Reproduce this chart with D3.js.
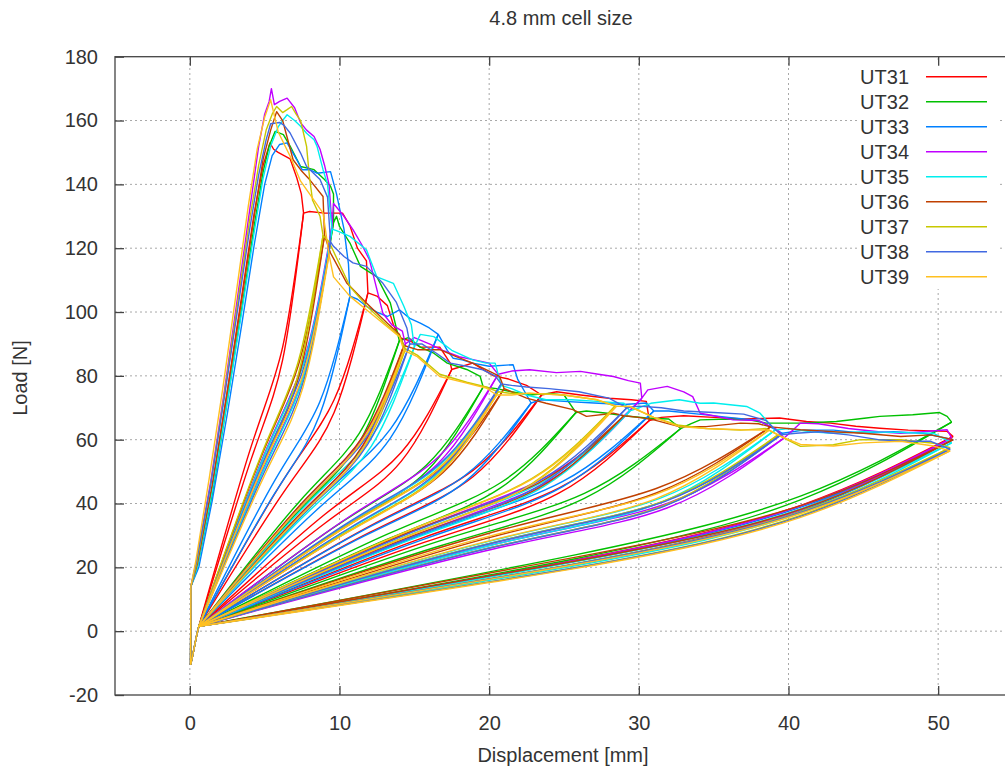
<!DOCTYPE html>
<html>
<head>
<meta charset="utf-8">
<script src="https://cdn.jsdelivr.net/npm/d3@7"></script>
<style>
  html, body { margin: 0; padding: 0; background: #fff; }
  svg { display: block; font-family: "Liberation Sans", Arial, sans-serif; }
</style>
</head>
<body>
<svg id="chart" width="1005" height="773"></svg>
<script>
// ---- axes ----
const xDomain = [-5, 55];
const yDomain = [-20, 180];
const displacementTicks = [0, 10, 20, 30, 40, 50];
const loadTicks = [-20, 0, 20, 40, 60, 80, 100, 120, 140, 160, 180];

const titleText = "4.8 mm cell size";
const xLabel = "Displacement [mm]";
const yLabel = "Load [N]";

// ---- specimens ----
const seriesNames = ["UT31", "UT32", "UT33", "UT34", "UT35", "UT36", "UT37", "UT38", "UT39"];
const seriesColors = ["#ff0000", "#00c000", "#0080ff", "#c000ff", "#00eeee", "#c04000", "#c8c800", "#4169e1", "#ffc020"];

// every unload/reload loop returns to this point [mm, N]
const loopBase = [0.6, 1.5];
// final return after the last unloading
const returnTail = [[0.6, 1.5], [0.45, -1.5], [0.3, -5], [0.15, -8.5], [0.05, -10.5]];

// loading envelopes [displacement mm, load N]
const envUT31 = [[0.05,-10.5],[0.07,14],[0.5,21],[1.5,45],[2.5,75],[3.5,106],[4.3,131],[4.9,146],[5.35,153],[5.6,151],[5.9,150],[6.3,149],[6.7,148],[7.15,142],[7.45,137],[7.6,131],[8.0,131.5],[9.0,131],[10.2,131],[10.7,127],[11.2,120],[11.8,116],[11.9,106],[12.5,105],[13.2,102],[13.6,96],[14.0,92],[14.7,91],[15.4,89],[16.7,89],[17.4,84],[17.5,82],[18.2,83],[18.9,84],[20.3,80],[21.3,79],[22.5,77],[23.5,74],[24.5,75],[26.1,74],[28,73],[29.5,72.5],[30.5,72],[30.7,66],[31.5,67],[33,67.5],[35,67],[37,66.5],[39.4,66.8],[41.2,65.7],[42.8,65.2],[44.5,64.2],[46.1,63.6],[48,63],[50.6,62.6],[51,61]];
const envUT32 = [[0.05,-10.5],[0.07,14],[0.5,20],[1.5,43],[2.5,72],[3.5,102],[4.3,127],[4.9,144],[5.3,152],[5.7,156.6],[6.25,155.6],[6.7,152],[7.4,145.6],[8.3,144.6],[9.0,141.5],[9.4,139.4],[9.6,137],[9.6,128],[9.8,130],[10.0,126.8],[10.7,121.6],[11.4,114.3],[12.5,111],[13.4,102.8],[14.0,91],[14.6,92],[15.4,89],[16.3,87.1],[17.2,84],[18.5,82],[19.4,79.8],[19.6,76.5],[20.5,76],[21.5,75],[22.7,74],[24,74.5],[25,74],[25.8,68.5],[26.5,69],[27.9,68.3],[29,67.5],[30.5,66.8],[32,66.5],[32.8,63.5],[33.5,65],[34.1,66.2],[36,66.5],[37.4,66.2],[38.5,65.2],[40.8,65.2],[43.2,65.7],[45.2,66.8],[46.1,67.3],[48.3,67.8],[50.1,68.5],[50.6,67.3],[50.9,65.5]];
const envUT33 = [[0.05,-10.5],[0.07,14],[0.6,20],[1.5,41],[2.5,68],[3.5,97],[4.3,121],[5.0,140],[5.5,149],[6.0,152.5],[6.5,153],[7.15,147.7],[7.5,144.6],[8.0,144.6],[8.5,143.5],[9.4,144],[9.8,137],[10.3,126],[10.6,115],[10.7,105],[11.2,104],[11.8,101.8],[12.5,100],[13.2,98.6],[14.0,100.7],[14.7,98],[15.4,96.5],[16.0,95],[16.6,93],[17.2,88],[17.6,85.5],[18.2,85],[18.9,84],[20.0,83],[21.6,83.5],[21.9,79],[22.5,74],[22.8,71.5],[23.5,72.5],[25,72],[27,71.5],[29,71],[30.5,71.5],[31,69],[32,69],[34,68],[36,67],[38,66],[39.6,62],[41,63],[43,63],[45,62],[47,62.5],[49,62],[51,60]];
const envUT34 = [[0.05,-10.5],[0.07,14],[0.45,22],[1.4,47],[2.3,75],[3.2,105],[4.0,132],[4.6,152],[5.0,162],[5.3,166],[5.45,170],[5.65,165],[6.0,166],[6.5,167],[7.0,164],[7.4,159.3],[7.8,157],[8.3,155],[8.7,151],[9.0,146],[9.3,140],[9.5,127],[9.6,134],[10.3,130],[10.9,125.8],[11.5,121],[12.0,116.4],[12.5,107],[12.9,99.6],[13.5,96],[14.2,94],[14.4,90],[15.0,92],[16.0,90],[16.9,88],[18.0,86],[19.0,85],[20.0,84],[20.6,80.5],[21.5,81.5],[22.7,81.9],[24.5,81],[26.1,81.4],[27.3,80.5],[28.3,79.8],[29.3,78.5],[30.1,77.7],[30.2,73],[30.6,75.6],[31.9,76.7],[33.0,75],[33.6,73.5],[34.1,68.3],[35.0,67.5],[36.3,66.2],[38.0,66],[39.3,63],[39.7,60.5],[40.3,63],[40.8,65.2],[42,65],[44,63.5],[46,62.5],[47.5,62],[49,62.5],[50.6,63.1],[50.9,60.5]];
const envUT35 = [[0.05,-10.5],[0.07,14],[0.5,20],[1.5,44],[2.5,72],[3.5,101],[4.3,125],[4.9,142],[5.4,152],[5.9,158],[6.2,160],[6.5,161.8],[7.0,160],[7.4,158.2],[7.8,156],[8.3,154],[8.5,151.9],[8.9,144.6],[9.2,140],[9.5,126],[9.8,125.5],[10.7,123.7],[11.8,119.5],[12.5,111],[13.6,109],[14.3,101.8],[14.8,96],[15.0,89],[15.4,93],[16.3,92.3],[17.5,88],[18.9,85],[19.8,84],[20.4,84],[20.8,77],[21.5,76],[22.5,74],[23.8,72.5],[25.5,72.5],[27.2,72],[29.0,71.4],[29.4,69],[30.0,70],[30.8,71.4],[32.7,72.5],[34.1,71.4],[35.0,71.5],[37.2,70.4],[38.1,68.3],[39.1,63],[40.0,63.5],[41.5,62.5],[43,62],[45,62.5],[47,62.3],[49.7,62],[50.9,59]];
const envUT36 = [[0.05,-10.5],[0.07,14],[0.5,21],[1.5,46],[2.5,75],[3.5,105],[4.3,130],[4.9,148],[5.4,157],[5.8,162.8],[6.2,160],[6.9,147.7],[7.5,144],[8.0,141.5],[8.9,136.2],[9.0,124],[9.4,118.5],[10.5,109],[11.8,102.8],[13.2,96.5],[14.0,93],[14.3,89.5],[15.2,88.2],[16.7,88.2],[17.8,86],[18.9,84],[20.0,81.5],[20.7,79.8],[21.0,76],[22.5,73],[23.8,71.4],[25.6,69.4],[26.5,67.3],[28.3,68.3],[29.0,67.5],[30.0,67],[31.0,66.2],[32.7,64.1],[34.5,64.1],[36.8,65.2],[38.0,65],[38.8,64],[40.8,63.1],[43,62.5],[45,62],[47.5,61],[49.5,61.5],[51,60]];
const envUT37 = [[0.05,-10.5],[0.07,14],[0.45,21],[1.4,46],[2.3,74],[3.2,103],[4.0,129],[4.6,146],[5.1,157],[5.5,162],[5.8,164.4],[6.2,162.5],[6.5,163.4],[6.8,164.4],[7.1,162],[7.4,160],[7.8,151.9],[8.0,142],[8.2,135],[8.7,130],[8.9,124],[9.3,122],[10.0,115],[10.7,108],[11.8,102],[12.9,97],[14.0,92.5],[14.4,88.5],[15.2,86.5],[16.7,80.5],[18.5,78],[19.8,76.5],[20.6,75],[21.5,74.5],[22.7,74.5],[25,74],[27.2,72.5],[28.4,70.5],[29.4,70.4],[31,67],[32.7,64.5],[34.5,63.5],[36.8,63],[38.5,63.5],[39.3,61.5],[39.9,60],[40.8,57.9],[43,58.4],[44.8,60],[47.5,60],[49.7,58.9],[50.8,57.5]];
const envUT38 = [[0.05,-10.5],[0.07,14],[0.45,22],[1.4,46],[2.3,73],[3.2,101],[4.0,126],[4.6,143],[5.1,154],[5.4,159],[6.0,159.4],[6.3,158.5],[6.7,156.1],[7.4,149.8],[7.8,145.6],[8.7,141.5],[9.2,136],[9.4,122],[9.6,120.6],[10.3,117.4],[10.9,115.4],[11.8,114.3],[12.9,109],[13.8,103],[14.5,95],[14.7,90],[15.5,90],[16.5,87],[17.4,84],[18.5,83],[19.5,82],[20.4,80],[20.8,77.5],[21.5,77],[22.5,76.5],[24,76],[26,75],[28,73],[29.2,70],[30,70.5],[31.5,70],[33,69],[35,68.5],[37,68],[38.5,66],[39.5,61.5],[40.5,62],[42,62.5],[44,61.5],[46,60],[48,59.5],[49.5,59.5],[50.8,57]];
const envUT39 = [[0.05,-10.5],[0.07,14],[0.4,22],[1.3,48],[2.2,76],[3.1,106],[3.9,133],[4.5,151],[5.0,161],[5.4,166.5],[5.9,156.5],[6.7,148.8],[7.4,141],[8.0,137],[8.9,131],[9.3,118],[9.6,111],[10.7,104.9],[11.8,100.7],[12.9,96.5],[14.0,92.3],[14.3,88],[15.2,86],[16.7,79.8],[18.5,77.7],[19.8,76.2],[20.5,74],[21.5,74],[22.7,74.6],[25,74],[27.2,72.5],[28.5,70.5],[29.4,70.4],[31,67],[32.7,64.1],[34.5,63.5],[36.8,63.1],[38.7,63],[39.5,61],[40.8,58.5],[43,58],[45,59],[47.5,59.5],[49.7,58],[50.8,56.5]];

// unload/reload loops:
// [tip disp, tip load, mid disp, reload load, unload load, knee disp, reload load, unload load]
const loopsUT31 = [[7.6,131,4.1,57.9,53.9,6.2,89.0,85.0],[11.9,106,6.25,47.4,43.4,9.64,72.5,68.5],[17.5,82,9.05,36.7,33.9,14.12,56.0,53.2],[23.5,74,12.05,33.0,31.0,18.92,50.4,48.4],[30.7,66,15.65,29.4,27.8,24.68,44.9,43.3],[51,61,25.8,22.3,21.1,40.92,39.6,38.4]];
const loopsUT32 = [[9.6,128,5.1,56.6,52.6,7.8,87.0,83.0],[14,91,7.3,40.5,37.7,11.32,62.0,59.2],[19.6,76.5,10.1,34.0,32.0,15.8,52.0,50.0],[25.8,68.5,13.2,30.4,28.8,20.76,46.5,44.9],[32.8,63.5,16.7,28.3,26.7,26.36,43.2,41.6],[50.9,65.5,25.75,23.9,22.7,40.84,42.4,41.2]];
const loopsUT33 = [[10.7,105,5.65,47.0,43.0,8.68,71.8,67.8],[16.6,93,8.6,41.3,38.5,13.4,63.3,60.5],[22.8,71.5,11.7,31.9,29.9,18.36,48.7,46.7],[31,69,15.8,30.7,29.1,24.92,46.9,45.3],[39.6,62,20.1,27.6,26.2,31.8,40.9,39.5],[51,60,25.8,22.0,20.8,40.92,39.0,37.8]];
const loopsUT34 = [[9.5,127,5.05,56.2,52.2,7.72,86.3,82.3],[14.4,90,7.5,40.1,37.3,11.64,61.3,58.5],[20.6,80.5,10.6,35.7,33.7,16.6,54.6,52.6],[30.2,73,15.4,32.3,30.7,24.28,49.5,47.9],[39.7,60.5,20.15,27.0,25.6,31.88,40.0,38.6],[50.9,60.5,25.75,22.2,21.0,40.84,39.3,38.1]];
const loopsUT35 = [[9.5,126,5.05,55.8,51.8,7.72,85.7,81.7],[15,89,7.8,39.7,36.9,12.12,60.7,57.9],[20.8,77,10.7,34.2,32.2,16.76,52.3,50.3],[29.4,69,15.0,30.7,29.1,23.64,46.9,45.3],[39.1,63,19.85,28.0,26.6,31.4,41.6,40.2],[50.9,59,25.75,21.7,20.5,40.84,38.3,37.1]];
const loopsUT36 = [[9.0,124,4.8,55.0,51.0,7.32,84.4,80.4],[14.3,89.5,7.45,39.9,37.1,11.56,61.0,58.2],[21.0,76,10.8,33.8,31.8,16.92,51.7,49.7],[29,67.5,14.8,31.3,29.7,23.32,46.5,44.9],[38.8,64,19.7,30.3,28.9,31.16,44.7,43.3],[51,60,25.8,23.2,22.0,40.92,39.5,38.3]];
const loopsUT37 = [[8.9,124,4.75,55.0,51.0,7.24,84.4,80.4],[14.4,88.5,7.5,39.4,36.6,11.64,60.3,57.5],[20.6,75,10.6,33.4,31.4,16.6,51.0,49.0],[28.4,70.5,14.5,31.3,29.7,22.84,47.8,46.2],[39.3,61.5,19.95,27.4,26.0,31.56,40.6,39.2],[50.8,57.5,25.7,21.1,19.9,40.76,37.4,36.2]];
const loopsUT38 = [[9.4,122,5.0,54.1,50.1,7.64,83.0,79.0],[14.7,90,7.65,40.1,37.3,11.88,61.3,58.5],[20.8,77.5,10.7,34.4,32.4,16.76,52.7,50.7],[29.2,70,14.9,31.1,29.5,23.48,47.5,45.9],[39.5,61.5,20.05,27.4,26.0,31.72,40.6,39.2],[50.8,57,25.7,21.0,19.8,40.76,37.1,35.9]];
const loopsUT39 = [[9.3,118,4.95,52.4,48.4,7.56,80.4,76.4],[14.3,88,7.45,39.2,36.4,11.56,60.0,57.2],[20.5,74,10.55,33.0,31.0,16.52,50.4,48.4],[28.5,70.5,14.55,31.3,29.7,22.92,47.8,46.2],[38.7,63,19.65,29.3,27.9,31.08,42.8,41.4],[50.8,56.5,25.7,20.8,19.6,40.76,36.8,35.6]];

const envelopes = [envUT31, envUT32, envUT33, envUT34, envUT35, envUT36, envUT37, envUT38, envUT39];
const loopSets = [loopsUT31, loopsUT32, loopsUT33, loopsUT34, loopsUT35, loopsUT36, loopsUT37, loopsUT38, loopsUT39];

const series = seriesNames.map((name, i) => ({
  name, color: seriesColors[i], env: envelopes[i], loops: loopSets[i]
}));

// ---- layout ----
const plot = { left: 115, right: 1013, top: 56.7, bottom: 695 };
const textColor = "#333";
const fontSize = 20;

const svg = d3.select("#chart");
const x = d3.scaleLinear().domain(xDomain).range([plot.left, plot.right]);
const y = d3.scaleLinear().domain(yDomain).range([plot.bottom, plot.top]);

// dotted grid
const grid = svg.append("g")
  .attr("stroke", "#a8a8a8").attr("stroke-width", 1).attr("stroke-dasharray", "2,3");
displacementTicks.forEach(v => {
  grid.append("line").attr("x1", x(v)).attr("x2", x(v)).attr("y1", plot.bottom).attr("y2", plot.top);
});
loadTicks.filter(v => v > yDomain[0] && v < yDomain[1]).forEach(v => {
  grid.append("line").attr("x1", plot.left).attr("x2", plot.right).attr("y1", y(v)).attr("y2", y(v));
});

// key background hides the grid behind the legend
svg.append("rect").attr("x", 857).attr("y", 63).attr("width", 143).attr("height", 226).attr("fill", "#fff");

// data
svg.append("clipPath").attr("id", "plotClip")
  .append("rect").attr("x", plot.left).attr("y", plot.top)
  .attr("width", plot.right - plot.left).attr("height", plot.bottom - plot.top);

const dataLayer = svg.append("g").attr("clip-path", "url(#plotClip)")
  .attr("fill", "none").attr("stroke-width", 1.4).attr("stroke-linejoin", "round");

const straight = d3.line().x(d => x(d[0])).y(d => y(d[1]));
const smooth = d3.line().x(d => x(d[0])).y(d => y(d[1])).curve(d3.curveNatural);

series.forEach(s => {
  const g = dataLayer.append("g").attr("stroke", s.color);
  s.loops.forEach(([xu, yu, xa, yaU, yaD, xb, ybU, ybD]) => {
    g.append("path").attr("d", smooth([loopBase, [xa, yaU], [xb, ybU], [xu, yu]]));
    g.append("path").attr("d", smooth([loopBase, [xa, yaD], [xb, ybD], [xu, yu]]));
  });
  g.append("path").attr("d", straight(s.env));
  g.append("path").attr("d", straight(returnTail));
});

// frame
svg.append("rect")
  .attr("x", plot.left).attr("y", plot.top)
  .attr("width", plot.right - plot.left).attr("height", plot.bottom - plot.top)
  .attr("fill", "none").attr("stroke", "#444").attr("stroke-width", 1.3);

// axes with inward ticks
const plainNumber = d => String(d);
const axisStyle = g => {
  g.select(".domain").remove();
  g.selectAll(".tick line").attr("stroke", "#444").attr("stroke-width", 1.3);
  g.selectAll(".tick text").attr("fill", textColor).attr("font-size", fontSize)
    .attr("font-family", "Liberation Sans, Arial, sans-serif");
};
svg.append("g").attr("transform", `translate(0,${plot.bottom})`)
  .call(d3.axisBottom(x).tickValues(displacementTicks).tickSize(-9).tickPadding(21).tickFormat(plainNumber))
  .call(axisStyle);
svg.append("g").attr("transform", `translate(0,${plot.top})`)
  .call(d3.axisTop(x).tickValues(displacementTicks).tickSize(-9).tickFormat(""))
  .call(axisStyle);
svg.append("g").attr("transform", `translate(${plot.left},0)`)
  .call(d3.axisLeft(y).tickValues(loadTicks).tickSize(-9).tickPadding(17).tickFormat(plainNumber))
  .call(axisStyle);

// titles
svg.append("text").attr("x", 561).attr("y", 25).attr("text-anchor", "middle")
  .attr("fill", textColor).attr("font-size", fontSize).text(titleText);
svg.append("text").attr("x", 563).attr("y", 762).attr("text-anchor", "middle")
  .attr("fill", textColor).attr("font-size", fontSize).text(xLabel);
svg.append("text").attr("transform", "translate(27,378) rotate(-90)").attr("text-anchor", "middle")
  .attr("fill", textColor).attr("font-size", fontSize).text(yLabel);

// legend
const legend = svg.append("g");
series.forEach((s, i) => {
  const cy = 76.7 + i * 25;
  legend.append("text").attr("x", 909).attr("y", cy).attr("dy", "0.35em")
    .attr("text-anchor", "end").attr("fill", textColor).attr("font-size", fontSize).text(s.name);
  legend.append("line").attr("x1", 926).attr("x2", 987).attr("y1", cy).attr("y2", cy)
    .attr("stroke", s.color).attr("stroke-width", 1.4);
});
</script>
</body>
</html>
